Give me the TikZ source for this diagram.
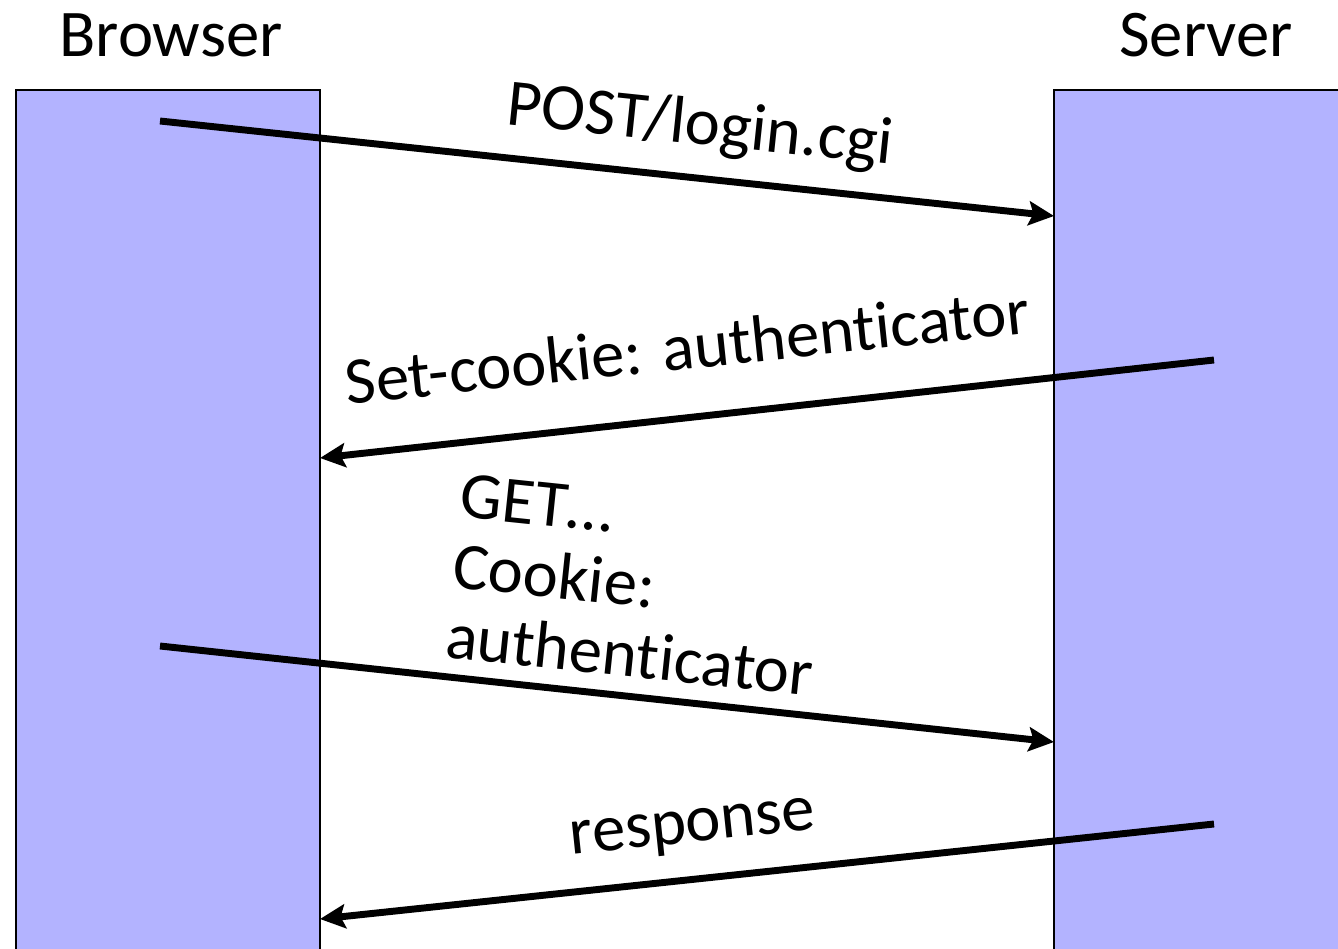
\documentclass[tikz,border=0pt]{standalone}
\usepackage{fontspec}
\setmainfont{Carlito}[Ligatures={NoCommon,NoRequired,NoContextual}]
\usetikzlibrary{arrows.meta}
\definecolor{life}{HTML}{B3B3FF}
\tikzset{
  lifeline/.style={draw=black, line width=1.2pt, fill=life},
  msg/.style={line width=5.2pt, -{Stealth[length=19pt,width=18pt,inset=3.5pt]}},
  lbl/.style={font=\fontsize{50}{53}\selectfont, inner sep=0pt},
  title/.style={font=\fontsize{50}{53}\selectfont, inner sep=0pt}
}
\begin{document}
\begin{tikzpicture}[x=0.75pt,y=-0.75pt]
\useasboundingbox (0,0) rectangle (1338,949);
\fill[life] (16,90) rectangle (320,960);
\draw[line width=1.2pt] (16,960) -- (16,90) -- (320,90) -- (320,960);
\fill[life] (1054,90) rectangle (1345,960);
\draw[line width=1.2pt] (1054,960) -- (1054,90) -- (1345,90);
\node[title] (browser) at (171,35) {Browser};
\node[title] (server) at (1206,35) {Server};
\coordinate (b1) at (160,121);
\coordinate (s1) at (1054,216);
\coordinate (s2) at (1214,360);
\coordinate (b2) at (320,458);
\coordinate (b3) at (160,646);
\coordinate (s3) at (1054,742);
\coordinate (s4) at (1214,824);
\coordinate (b4) at (320,919);
\draw[msg] (b1) -- (s1);
\draw[msg] (s2) -- (b2);
\draw[msg] (b3) -- (s3);
\draw[msg] (s4) -- (b4);
\node[lbl, rotate=-6] (l1) at (700,127) {POST/login.cgi};
\node[lbl, rotate=6] (l2) at (687,346) {Set-cookie: authenticator};
\node[lbl, rotate=-6, align=left] (l3) at (637,585) {GET…\\Cookie:\\authenticator};
\node[lbl, rotate=6] (l4) at (693,831) {response};
\end{tikzpicture}
\end{document}
